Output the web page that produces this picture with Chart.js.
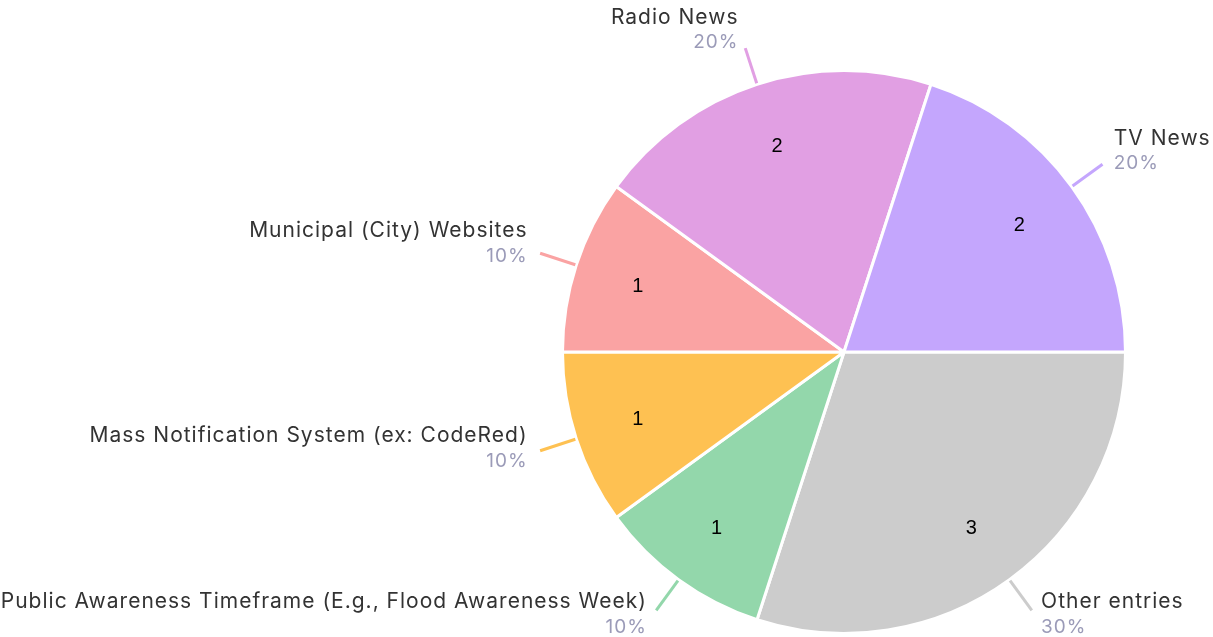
<!DOCTYPE html>
<html>
<head>
<meta charset="utf-8">
<script src="https://cdn.jsdelivr.net/npm/chart.js@4"></script>
<style>
  html, body { margin: 0; padding: 0; background: #fff; }
  #wrap { width: 1213px; height: 637px; }
</style>
</head>
<body>
<div id="wrap"><canvas id="myChart"></canvas></div>
<script>
'use strict';

// slices in drawing order, clockwise from 3 o'clock
let categories = ['Other entries', 'Public Awareness Timeframe (E.g., Flood Awareness Week)', 'Mass Notification System (ex: CodeRed)', 'Municipal (City) Websites', 'Radio News', 'TV News'];
let counts = [3, 1, 1, 1, 2, 2];
let sliceColors = ['#cccccc', '#93d7ab', '#fec152', '#faa3a3', '#e19fe3', '#c4a6fd'];

let total = counts.reduce((a, b) => a + b, 0);

// draws the counts inside slices and the outside labels with leader lines
let pieLabels = {
    id: 'pieLabels',
    afterDatasetsDraw(chart) {
        let ctx = chart.ctx;
        let arcs = chart.getDatasetMeta(0).data;
        ctx.save();
        for (let i = 0; i < arcs.length; i++) {
            let arc = arcs[i];
            let mid = (arc.startAngle + arc.endAngle) / 2;
            let c = Math.cos(mid);
            let s = Math.sin(mid);
            let r = arc.outerRadius;

            // count inside
            ctx.letterSpacing = '0px';
            ctx.fillStyle = '#000';
            ctx.font = '20px "Liberation Sans", Arial, sans-serif';
            ctx.textAlign = 'center';
            ctx.textBaseline = 'middle';
            ctx.fillText(String(counts[i]), arc.x + c * r * 0.77, arc.y + s * r * 0.77 + 1);

            // leader line
            let x1 = arc.x + c * (r + 1);
            let y1 = arc.y + s * (r + 1);
            let x2 = arc.x + c * (r + 38);
            let y2 = arc.y + s * (r + 38);
            ctx.strokeStyle = sliceColors[i];
            ctx.lineWidth = 3;
            ctx.beginPath();
            ctx.moveTo(x1, y1);
            ctx.lineTo(x2, y2);
            ctx.stroke();

            // name + percent
            let right = c >= 0;
            let gap = 4 + 9 * Math.abs(c);
            let tx = right ? x2 + gap : x2 - gap;
            let mid_y = y2 - 6 + 12.5 * s;
            ctx.textAlign = right ? 'left' : 'right';
            ctx.letterSpacing = '1px';
            ctx.fillStyle = '#333333';
            ctx.font = '21px Inter, "Noto Sans", sans-serif';
            ctx.fillText(categories[i], tx, mid_y - 12.5);
            ctx.fillStyle = '#9b9bb8';
            ctx.font = '19px Inter, "Noto Sans", sans-serif';
            ctx.fillText(Math.round(counts[i] / total * 100) + '%', tx, mid_y + 12.5);
        }
        ctx.restore();
    }
};

let ctx = document.getElementById('myChart').getContext('2d');
let myChart = new Chart(ctx, {
    type: 'pie',
    data: {
        labels: categories,
        datasets: [{
            data: counts,
            backgroundColor: sliceColors,
            borderColor: '#ffffff',
            borderWidth: 3
        }]
    },
    options: {
        responsive: true,
        maintainAspectRatio: false,
        animation: false,
        rotation: 90,
        layout: {
            padding: { left: 561, right: 86, top: 69, bottom: 2 }
        },
        plugins: {
            legend: { display: false },
            tooltip: { enabled: false }
        }
    },
    plugins: [pieLabels]
});
</script>
</body>
</html>
